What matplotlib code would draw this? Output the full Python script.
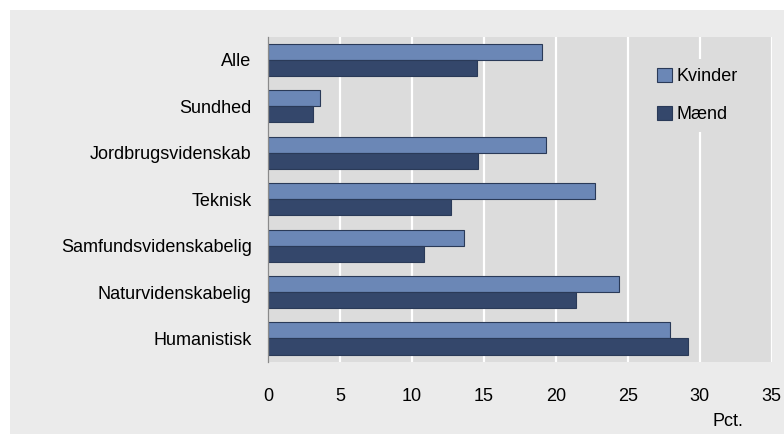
"""Andel kvinder og mænd fordelt på hovedområde, vandret søjlediagram."""

from __future__ import annotations

import matplotlib

matplotlib.use("Agg")

import matplotlib.pyplot as plt
import numpy as np
from matplotlib.patches import Rectangle

plt.rcParams["font.family"] = ["Liberation Sans Narrow", "Liberation Sans", "DejaVu Sans"]

CATEGORIES = [
    "Alle",
    "Sundhed",
    "Jordbrugsvidenskab",
    "Teknisk",
    "Samfundsvidenskabelig",
    "Naturvidenskabelig",
    "Humanistisk",
]
KVINDER = [19.0, 3.6, 19.3, 22.7, 13.6, 24.4, 27.9]
MAEND = [14.5, 3.1, 14.6, 12.7, 10.8, 21.4, 29.2]
X_TICKS = [0, 5, 10, 15, 20, 25, 30, 35]

FIG_BG = "#ebebeb"
PLOT_BG = "#dcdcdc"
KVINDER_COLOR = "#6b87b6"
MAEND_COLOR = "#34476b"
EDGE_COLOR = "#2a3a58"
FONT_SIZE = 13


def draw_chart() -> None:
    """Tegner diagrammet og gemmer det som out.png."""
    fig = plt.figure(figsize=(7.84, 4.34), dpi=100, facecolor="white")
    fig.patches.append(
        Rectangle((10 / 784, 0), 774 / 784, 424 / 434, transform=fig.transFigure,
                  facecolor=FIG_BG, edgecolor="none", zorder=-10)
    )
    ax = fig.add_axes([268.3 / 784, 72.3 / 434, 503.4 / 784, 325 / 434])
    ax.set_facecolor(PLOT_BG)

    y = np.arange(len(CATEGORIES))
    bar_h = 0.345
    ax.barh(y - bar_h / 2, KVINDER, height=bar_h, color=KVINDER_COLOR,
            edgecolor=EDGE_COLOR, linewidth=0.8, label="Kvinder", zorder=3)
    ax.barh(y + bar_h / 2, MAEND, height=bar_h, color=MAEND_COLOR,
            edgecolor=EDGE_COLOR, linewidth=0.8, label="Mænd", zorder=3)

    ax.set_ylim(len(CATEGORIES) - 0.5, -0.5)
    ax.set_xlim(0, 35)
    ax.set_yticks(y)
    ax.set_yticklabels(CATEGORIES, fontsize=FONT_SIZE)
    ax.set_xticks(X_TICKS)
    ax.set_xticklabels([str(t) for t in X_TICKS], fontsize=FONT_SIZE)
    ax.tick_params(axis="both", length=0)
    ax.tick_params(axis="x", pad=19)
    ax.tick_params(axis="y", pad=12)

    ax.xaxis.grid(True, color="white", linewidth=1.6, zorder=1)
    ax.set_axisbelow(True)
    for side in ("top", "right", "bottom"):
        ax.spines[side].set_visible(False)
    ax.spines["left"].set_color("#8a8a8a")
    ax.spines["left"].set_linewidth(0.9)
    ax.spines["left"].set_zorder(4)

    handles = [
        Rectangle((0, 0), 1, 1, facecolor=KVINDER_COLOR, edgecolor=EDGE_COLOR, linewidth=0.8),
        Rectangle((0, 0), 1, 1, facecolor=MAEND_COLOR, edgecolor=EDGE_COLOR, linewidth=0.8),
    ]
    legend = fig.legend(
        handles, ["Kvinder", "Mænd"],
        loc="upper left", bbox_to_anchor=(639 / 784, 1 - 50 / 434),
        fontsize=FONT_SIZE, frameon=True, facecolor=PLOT_BG, edgecolor="none",
        framealpha=1, fancybox=False, handlelength=0.8, handleheight=0.8,
        handletextpad=0.3, labelspacing=1.15, borderpad=0.5,
    )
    legend.set_zorder(5)

    fig.text(728 / 784, 1 - 421 / 434, "Pct.", fontsize=FONT_SIZE, ha="center", va="center")

    fig.savefig("out.png", dpi=100, facecolor=fig.get_facecolor())
    plt.close(fig)


def main() -> None:
    draw_chart()


if __name__ == "__main__":
    main()
